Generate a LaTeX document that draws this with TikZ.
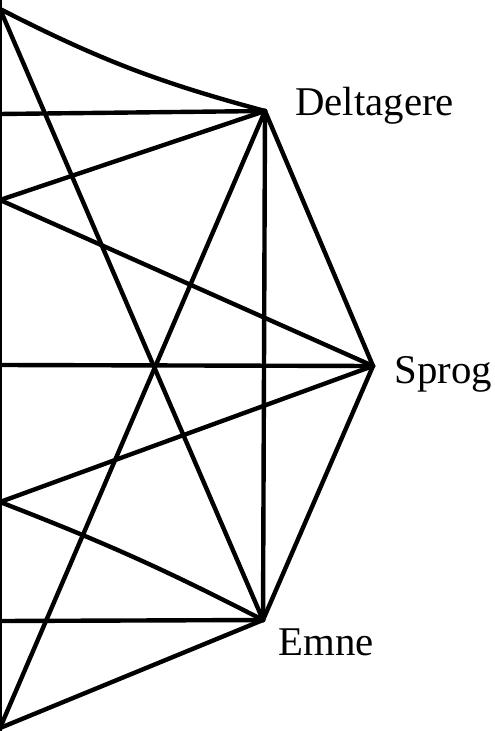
\documentclass[tikz,border=0pt]{standalone}
\usepackage{fontspec}
\setmainfont{Liberation Serif}
\usepackage{tikz}
\usetikzlibrary{positioning}

\begin{document}
\begin{tikzpicture}[
    x=0.5pt, y=-0.5pt,
    every node/.style={font=\fontsize{20.4}{24}\selectfont},
    edgeline/.style={line width=2.2pt, line cap=round, line join=round},
    vlabel/.style={anchor=base west, inner sep=0pt}
]
    \useasboundingbox (0,0) rectangle (494,731);
    \clip (0,0) rectangle (494,731);
    % vertices
    \coordinate (delt) at (265,111);
    \coordinate (sprog) at (373,366);
    \coordinate (emne) at (263,620);
    \coordinate (top) at (0,9);
    \coordinate (upl) at (0,200);
    \coordinate (lol) at (0,502);
    \coordinate (bot) at (0,728);
    % free ends at the left edge
    \coordinate (edgeD) at (0,114);
    \coordinate (edgeS) at (0,365);
    \coordinate (edgeE) at (0,621);
    \coordinate (edgeT) at (0,-10);
    \coordinate (edgeB) at (0,745);
    % labels
    \node[vlabel] (deltlabel) at (295,116) {Deltagere};
    \node[vlabel] (sproglabel) at (394,383) {Sprog};
    \node[vlabel] (emnelabel) at (278,655) {Emne};
    % edges
    \draw[edgeline] (edgeT) -- (edgeB);
    \draw[edgeline] (top) to[bend right=6] (delt);
    \draw[edgeline] (top) -- (emne);
    \draw[edgeline] (edgeD) -- (delt);
    \draw[edgeline] (upl) -- (delt);
    \draw[edgeline] (upl) -- (sprog);
    \draw[edgeline] (edgeS) -- (sprog);
    \draw[edgeline] (lol) -- (sprog);
    \draw[edgeline] (lol) to[bend left=3] (emne);
    \draw[edgeline] (edgeE) -- (emne);
    \draw[edgeline] (bot) -- (emne);
    \draw[edgeline] (bot) -- (delt);
    \draw[edgeline] (delt) -- (emne);
    \draw[edgeline] (delt) -- (sprog);
    \draw[edgeline] (sprog) -- (emne);
\end{tikzpicture}
\end{document}
